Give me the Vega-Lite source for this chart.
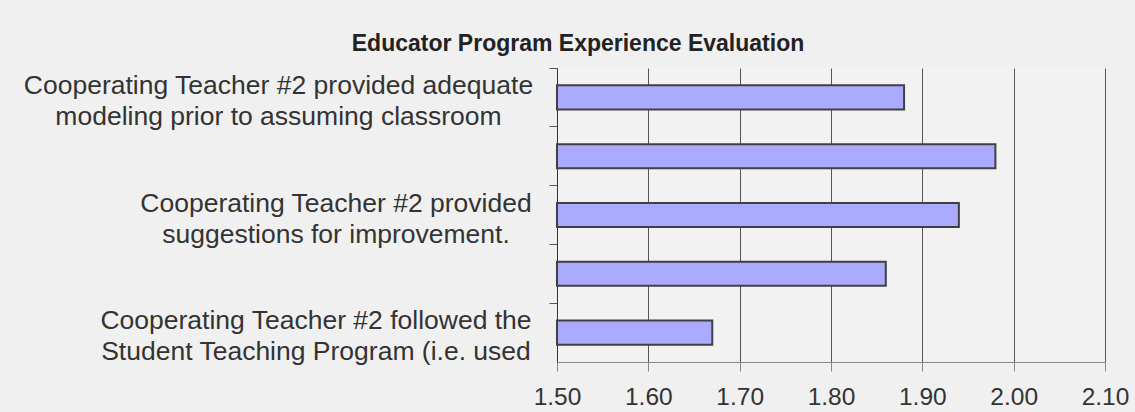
{
  "$schema": "https://vega.github.io/schema/vega-lite/v6.json",
  "width": 548,
  "height": 294,
  "autosize": "none",
  "padding": {"left": 557, "top": 68, "right": 30, "bottom": 50},
  "background": "#F0F0F0",
  "config": {
    "view": {"fill": "#F2F2F2", "stroke": null},
    "font": "Liberation Sans"
  },
  "title": {
    "text": "Educator Program Experience Evaluation",
    "anchor": "middle",
    "frame": "group",
    "dx": -253,
    "offset": 12,
    "fontSize": 23,
    "fontWeight": "bold",
    "color": "#222222",
    "font": "Liberation Sans"
  },
  "data": {
    "values": [
      {"question": "Cooperating Teacher #2 provided adequate|modeling prior to assuming classroom", "mean": 1.88},
      {"question": "Item 2", "mean": 1.98},
      {"question": "Cooperating Teacher #2 provided|suggestions for improvement.", "mean": 1.94},
      {"question": "Item 4", "mean": 1.86},
      {"question": "Cooperating Teacher #2 followed the|Student Teaching Program (i.e. used", "mean": 1.67}
    ]
  },
  "mark": {"type": "bar", "fill": "#AAAAFF", "stroke": "#404040", "strokeWidth": 2, "height": {"band": 0.41}},
  "encoding": {
    "y": {
      "field": "question",
      "type": "nominal",
      "sort": null,
      "scale": {"paddingInner": 0, "paddingOuter": 0},
      "axis": {
        "title": null,
        "bandPosition": 0,
        "tickSize": 8,
        "tickColor": "#555555",
        "domainColor": "#333333",
        "labelFontSize": 26.5,
        "labelColor": "#333333",
        "labelAlign": "center",
        "labelBaseline": "middle",
        "labelLineHeight": 31,
        "labelOffset": -11.5,
        "labelLimit": 0,
        "labelPadding": {
          "condition": [
            {"test": "indexof(datum.value, 'adequate') >= 0", "value": 271},
            {"test": "indexof(datum.value, 'suggestions') >= 0", "value": 213.5}
          ],
          "value": 233.5
        },
        "labelExpr": "indexof(datum.value, '|') >= 0 ? split(datum.value, '|') : ''"
      }
    },
    "x": {
      "field": "mean",
      "type": "quantitative",
      "scale": {"domain": [1.5, 2.1], "nice": false, "zero": false},
      "axis": {
        "title": null,
        "values": [1.5, 1.6, 1.7, 1.8, 1.9, 2.0, 2.1],
        "format": ".2f",
        "grid": true,
        "gridColor": "#555555",
        "tickSize": 9,
        "tickColor": "#888888",
        "domainColor": "#888888",
        "labelFontSize": 24.5,
        "labelColor": "#333333",
        "labelPadding": 14,
        "labelFlush": false,
        "labelOverlap": false
      }
    },
    "x2": {"datum": 1.5}
  }
}
